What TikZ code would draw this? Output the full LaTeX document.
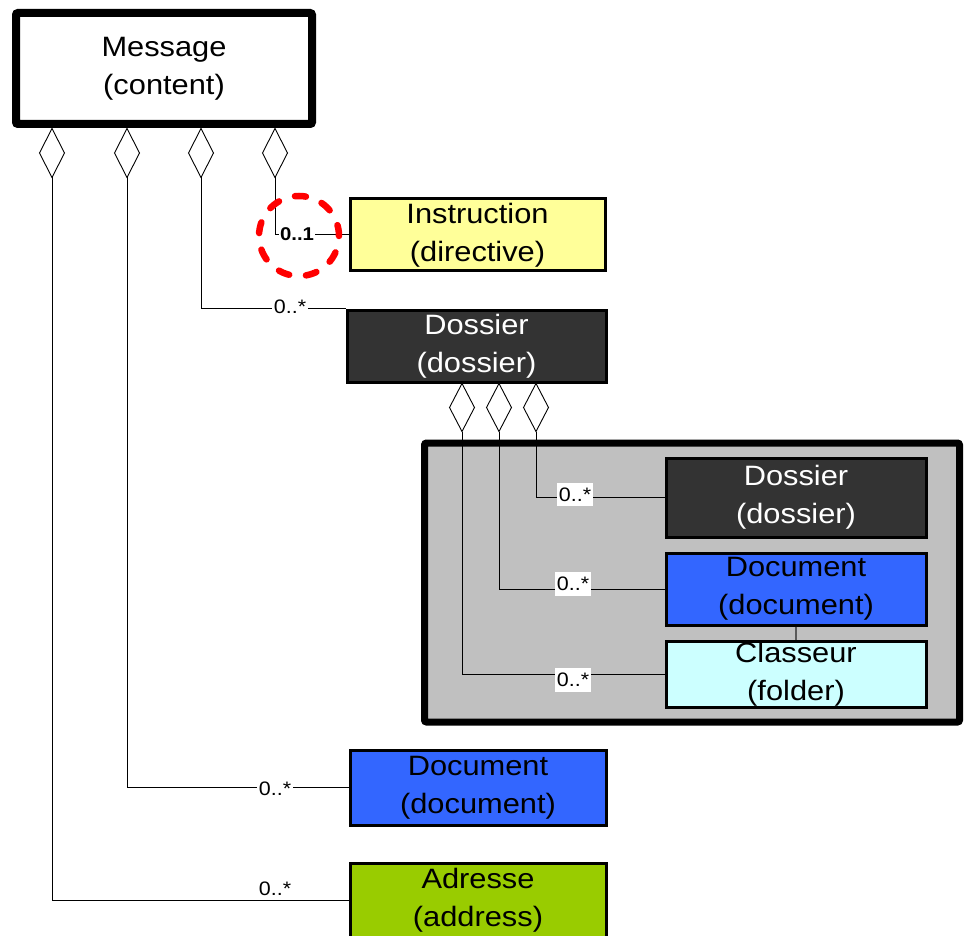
\documentclass[tikz,border=0pt]{standalone}
\usepackage{fontspec}
\setmainfont{Liberation Sans}[FakeStretch=1.1]
\usetikzlibrary{shapes.geometric}
\definecolor{grp}{HTML}{C0C0C0}
\definecolor{dark}{HTML}{333333}
\definecolor{blue}{HTML}{3366FF}
\definecolor{cyanl}{HTML}{CCFFFF}
\definecolor{yel}{HTML}{FFFF99}
\definecolor{olive}{HTML}{99CC00}
\begin{document}
\begin{tikzpicture}[x=1pt,y=-1pt,
  cls/.style={draw=black,line width=3pt,inner sep=0pt,align=center,
    font=\fontsize{28}{38}\selectfont},
  agg/.style={diamond,draw=black,line width=0.9pt,fill=white,inner sep=0pt,
    outer sep=0pt,minimum width=25pt,anchor=north},
  conn/.style={draw=black,line width=1pt},
  mult/.style={fill=white,inner xsep=1.5pt,inner ysep=4pt,
    font=\fontsize{19.5}{22}\selectfont},
]
\useasboundingbox (0,0) rectangle (967,936);

% group container
\node[draw=black,line width=7pt,fill=grp,rounded corners=2pt,inner sep=0pt,
  minimum width=535pt,minimum height=279pt] (group) at (692,582.5) {};

% classes
\node[cls,line width=8pt,rounded corners=2pt,fill=white,
  minimum width=296pt,minimum height=111pt] (msg) at (164,68.5) {Message\\(content)};
\node[cls,fill=yel,minimum width=255pt,minimum height=72pt] (instr) at (477.5,235) {Instruction\\(directive)};
\node[cls,fill=dark,text=white,minimum width=259pt,minimum height=72pt] (dos) at (476.5,346) {Dossier\\(dossier)};
\node[cls,fill=dark,text=white,minimum width=260pt,minimum height=79pt] (dos2) at (796,497.5) {Dossier\\(dossier)};
\node[cls,fill=blue,minimum width=260pt,minimum height=72pt] (doc2) at (796,589) {Document\\(document)};
\node[cls,fill=cyanl,minimum width=260pt,minimum height=66pt] (clsr) at (796,674) {Classeur\\(folder)};
\node[cls,fill=blue,minimum width=256pt,minimum height=75pt] (doc3) at (478,787.5) {Document\\(document)};
\node[cls,fill=olive,minimum width=256pt,minimum height=74pt] (adr) at (478,900) {Adresse\\(address)};

% aggregation diamonds
\node[agg,minimum height=49pt] (m1) at (52,128.5) {};
\node[agg,minimum height=49pt] (m2) at (127,128.5) {};
\node[agg,minimum height=49pt] (m3) at (201,128.5) {};
\node[agg,minimum height=49pt] (m4) at (275,128.5) {};
\node[agg,minimum height=48pt] (k1) at (462,383.5) {};
\node[agg,minimum height=48pt] (k2) at (499,383.5) {};
\node[agg,minimum height=48pt] (k3) at (536,383.5) {};

% connectors
\draw[conn] (m4.south) |- (instr.west);
\draw[conn] (m3.south) |- (dos.north west);
\draw[conn] (m2.south) |- (doc3.west);
\draw[conn] (m1.south) |- (adr.west);
\draw[conn] (k3.south) |- (dos2.west);
\draw[conn] (k2.south) |- (doc2.west);
\draw[conn] (k1.south) |- (clsr.west);
\draw[draw=black!65,line width=1.5pt] (doc2.south) -- (clsr.north);

% multiplicities
\node[mult,font=\fontsize{18.5}{20}\selectfont\bfseries,inner ysep=2pt,inner xsep=1pt] (l4) at (297,234.5) {0..1};
\node[mult,inner ysep=2pt] (l3) at (290,307) {0..*};
\node[mult,inner ysep=2pt] (l2) at (275,789) {0..*};
\node[mult] (l1) at (275,889) {0..*};
\node[mult,inner ysep=5pt] (k3l) at (575,494.5) {0..*};
\node[mult,inner ysep=5pt] (k2l) at (573,584) {0..*};
\node[mult,inner ysep=5pt] (k1l) at (573,680) {0..*};

% highlight
\node[circle,draw=red,line width=6.5pt,line cap=round,
  dash pattern=on 11pt off 16.92pt,minimum size=80pt,inner sep=0pt] (hl) at (299,236) {};
\end{tikzpicture}
\end{document}
